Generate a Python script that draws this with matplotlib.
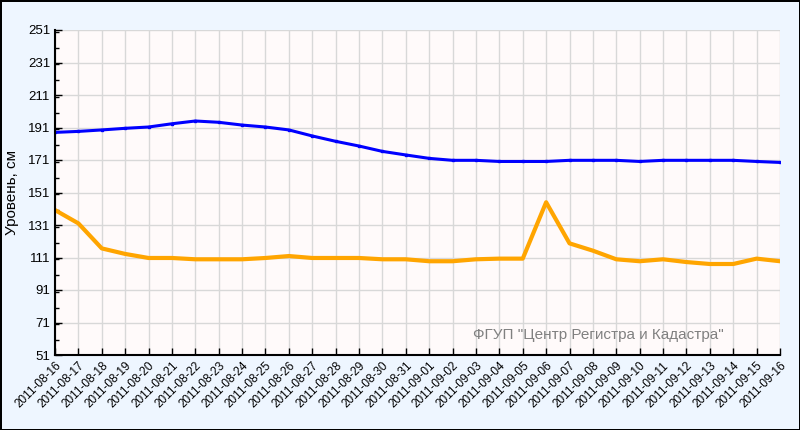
import numpy as np
import pandas as pd
import matplotlib
matplotlib.use('Agg')
import matplotlib.pyplot as plt
from matplotlib.ticker import MultipleLocator

plt.rcParams['font.family'] = ['Liberation Sans', 'DejaVu Sans']

# daily values
dates = pd.date_range('2011-08-16', '2011-09-16', freq='D')
upper_level = [188.0, 188.6, 189.5, 190.5, 191.3, 193.3, 195.0, 194.2, 192.5, 191.3,
               189.5, 185.8, 182.5, 179.6, 176.3, 174.1, 172.0, 170.8, 170.8, 170.1,
               170.1, 170.1, 170.8, 170.8, 170.8, 170.1, 170.8, 170.8, 170.8, 170.8,
               170.1, 169.5]
lower_level = [140.2, 132.0, 116.6, 113.2, 110.7, 110.7, 109.9, 109.9, 109.9, 110.7,
               111.9, 110.7, 110.7, 110.7, 109.9, 109.9, 108.7, 108.7, 109.9, 110.3,
               110.3, 145.0, 119.7, 115.2, 109.9, 108.7, 109.9, 108.2, 107.0, 107.0,
               110.3, 108.7]
date_labels = [d.strftime('%Y-%m-%d') for d in dates]
y_ticks = list(range(51, 252, 20))

fig = plt.figure(figsize=(8, 4.3), dpi=100, facecolor='#eef6ff',
                 edgecolor='black', linewidth=2)
ax = fig.add_axes([55 / 800, 75 / 430, 725 / 800, 325 / 430])
ax.set_facecolor('#fffafa')

x = np.arange(len(dates))
ax.plot(x, upper_level, color='#0000ff', linewidth=2.2, marker='s', markersize=1.5)
ax.plot(x, lower_level, color='#ffa500', linewidth=3)

ax.set_xlim(0, len(dates) - 1)
ax.set_ylim(51, 251)
ax.set_xticks(x)
ax.set_xticklabels(date_labels, rotation=45, ha='right', rotation_mode='anchor', fontsize=8.5)
ax.set_yticks(y_ticks)
ax.yaxis.set_minor_locator(MultipleLocator(10))
ax.tick_params(axis='y', labelsize=9.5)
ax.tick_params(axis='both', which='major', direction='in', length=5, width=1)
ax.tick_params(axis='y', which='minor', direction='in', length=3, width=1)
ax.grid(True, which='major', color='#d8d8d8', linewidth=1)
ax.set_axisbelow(True)

for side in ['top', 'right']:
    ax.spines[side].set_visible(False)
for side in ['left', 'bottom']:
    ax.spines[side].set_linewidth(1.5)

ax.set_ylabel('Уровень, см', fontsize=11, labelpad=6)

# watermark
fig.text(724 / 800, 1 - 335 / 430, 'ФГУП "Центр Регистра и Кадастра"', ha='right', va='center',
         fontsize=11, color='#808080')

fig.savefig('out.png', dpi=100, facecolor=fig.get_facecolor(), edgecolor=fig.get_edgecolor())
